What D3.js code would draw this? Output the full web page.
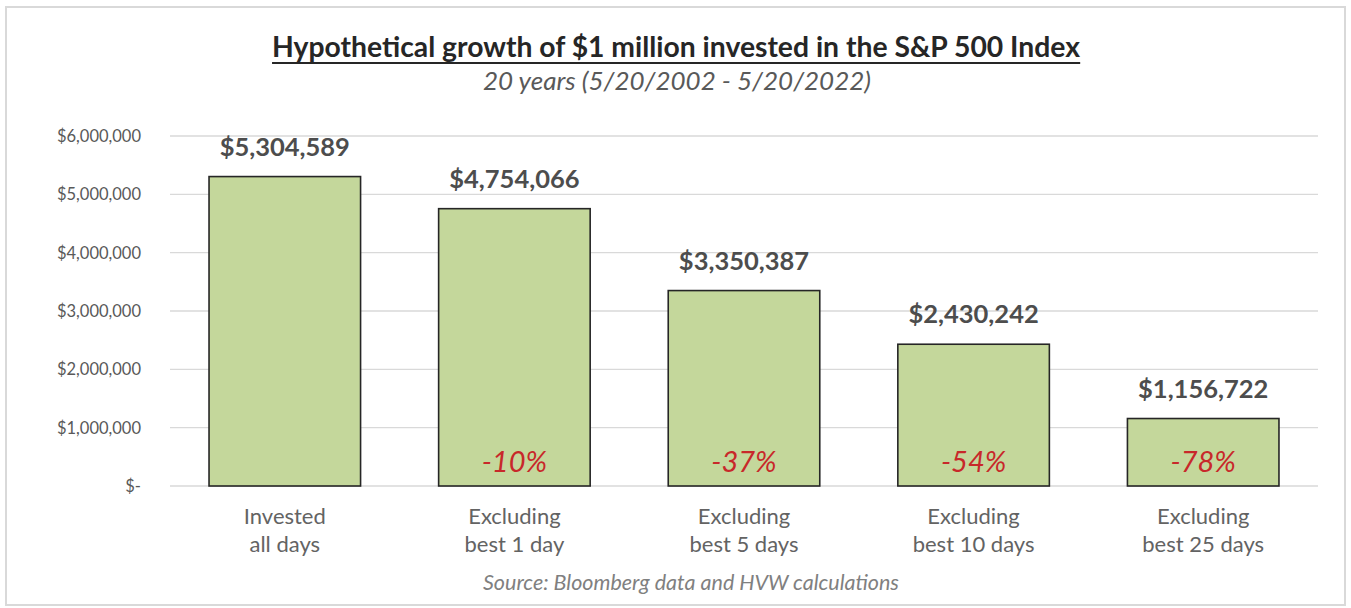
<html>
<head>
<style>
  body{margin:0;background:#fff}
  svg text{font-family:Lato,"Open Sans",sans-serif}
</style>
</head>
<body>
<div id="chart"></div>
<script src="https://cdn.jsdelivr.net/npm/d3@7"></script>
<script>
(function () {

  var categories = [
    ['Invested', 'all days'],
    ['Excluding', 'best 1 day'],
    ['Excluding', 'best 5 days'],
    ['Excluding', 'best 10 days'],
    ['Excluding', 'best 25 days']
  ];
  var values  = [5304589, 4754066, 3350387, 2430242, 1156722];
  var changes = ['', '-10%', '-37%', '-54%', '-78%'];
  var yTicks  = [0, 1000000, 2000000, 3000000, 4000000, 5000000, 6000000];

  var width = 1351, height = 608,
      left = 170, right = 1318, top = 136, bottom = 486;

  var svg = d3.select('#chart').append('svg')
    .attr('width', width)
    .attr('height', height);

  // outer frame
  svg.append('rect')
    .attr('x', 6).attr('y', 7)
    .attr('width', 1339).attr('height', 598)
    .attr('fill', '#fff')
    .attr('stroke', '#d9d9d9')
    .attr('stroke-width', 2);

  var x = d3.scaleBand()
    .domain(d3.range(values.length))
    .range([left, right])
    .paddingInner(0.34)
    .paddingOuter(0.17);

  var y = d3.scaleLinear()
    .domain([0, 6000000])
    .range([bottom, top]);

  var fmt = d3.format('$,');

  // gridlines
  svg.append('g').selectAll('line')
    .data(yTicks)
    .join('line')
    .attr('x1', left).attr('x2', right)
    .attr('y1', function (d) { return y(d); })
    .attr('y2', function (d) { return y(d); })
    .attr('stroke', '#d9d9d9')
    .attr('stroke-width', 1.3);

  // y labels
  svg.append('g').selectAll('text')
    .data(yTicks)
    .join('text')
    .attr('x', 141)
    .attr('y', function (d) { return y(d) + 6; })
    .attr('text-anchor', 'end')
    .attr('fill', '#595959')
    .style('font-size', '16.5px')
    .text(function (d) { return d === 0 ? '$-' : fmt(d); });

  // bars
  svg.append('g').selectAll('rect')
    .data(values)
    .join('rect')
    .attr('x', function (d, i) { return x(i); })
    .attr('y', function (d) { return y(d); })
    .attr('width', x.bandwidth())
    .attr('height', function (d) { return y(0) - y(d); })
    .attr('fill', '#c4d79b')
    .attr('stroke', '#262626')
    .attr('stroke-width', 1.6);

  // value labels
  svg.append('g').selectAll('text')
    .data(values)
    .join('text')
    .attr('x', function (d, i) { return x(i) + x.bandwidth() / 2; })
    .attr('y', function (d) { return y(d) - 21; })
    .attr('text-anchor', 'middle')
    .attr('fill', '#4d4d4d')
    .style('font-size', '25.5px')
    .style('font-weight', 'bold')
    .text(function (d) { return fmt(d); });

  // change labels
  svg.append('g').selectAll('text')
    .data(changes)
    .join('text')
    .attr('x', function (d, i) { return x(i) + x.bandwidth() / 2; })
    .attr('y', 472)
    .attr('text-anchor', 'middle')
    .attr('fill', '#c8282a')
    .style('font-size', '29px')
    .style('font-style', 'italic')
    .text(function (d) { return d; });

  // category labels
  var cat = svg.append('g').selectAll('text')
    .data(categories)
    .join('text')
    .attr('text-anchor', 'middle')
    .attr('fill', '#636363')
    .style('font-size', '22px');

  cat.selectAll('tspan')
    .data(function (d, i) { return d.map(function (s) { return {s: s, i: i}; }); })
    .join('tspan')
    .attr('x', function (d) { return x(d.i) + x.bandwidth() / 2; })
    .attr('y', function (d, j) { return 524 + j * 28; })
    .text(function (d) { return d.s; });

  // title
  var title = svg.append('text')
    .attr('x', 676).attr('y', 57)
    .attr('text-anchor', 'middle')
    .attr('fill', '#262626')
    .style('font-size', '28.3px')
    .style('font-weight', 'bold')
    .text('Hypothetical growth of $1 million invested in the S&P 500 Index');

  var tb = title.node().getBBox();
  svg.append('line')
    .attr('x1', tb.x).attr('x2', tb.x + tb.width)
    .attr('y1', 63).attr('y2', 63)
    .attr('stroke', '#262626')
    .attr('stroke-width', 1.8);

  svg.append('text')
    .attr('x', 677).attr('y', 90)
    .attr('text-anchor', 'middle')
    .attr('fill', '#595959')
    .style('font-size', '26px')
    .style('font-style', 'italic')
    .text('20 years (5/20/2002 - 5/20/2022)');

  svg.append('text')
    .attr('x', 691).attr('y', 590)
    .attr('text-anchor', 'middle')
    .attr('fill', '#808080')
    .style('font-size', '21.5px')
    .style('font-style', 'italic')
    .text('Source: Bloomberg data and HVW calculations');

})();
</script>
</body>
</html>
